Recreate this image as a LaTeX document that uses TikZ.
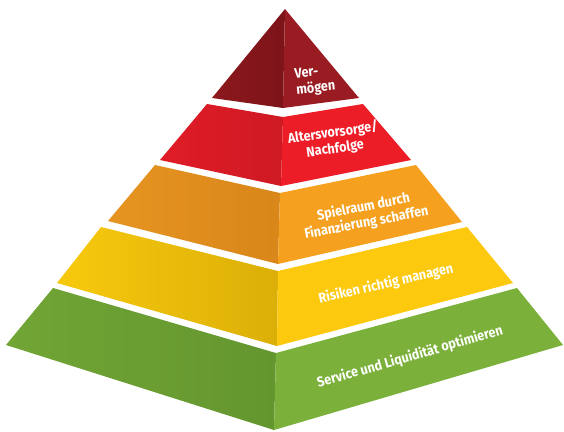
\documentclass[tikz,border=0pt]{standalone}
\usepackage{fontspec}
\newfontfamily\pyrfont{Fira Sans}[FakeStretch=0.9]
\definecolor{vmL}{HTML}{8C181D}\definecolor{vmR}{HTML}{7C1419}\definecolor{vmF}{HTML}{9A1C23}
\definecolor{rdL}{HTML}{DF1C26}\definecolor{rdR}{HTML}{CF1A24}\definecolor{rdF}{HTML}{EC1D26}
\definecolor{orL}{HTML}{E69421}\definecolor{orR}{HTML}{D9861A}\definecolor{orF}{HTML}{F5A11F}
\definecolor{ylL}{HTML}{F7C90D}\definecolor{ylR}{HTML}{DCAF08}\definecolor{ylF}{HTML}{FDC90E}
\definecolor{gnL}{HTML}{71A535}\definecolor{gnR}{HTML}{64962F}\definecolor{gnF}{HTML}{7BB13A}
\tikzset{
  lbl/.style={text=white, font=\pyrfont\bfseries\fontsize{14}{16}\selectfont, align=center, inner sep=0pt}
}
\begin{document}
\begin{tikzpicture}[x=1pt,y=-1pt]
\useasboundingbox (0,0) rectangle (564,431);
% Layer 1: Vermoegen
\shade[left color=vmL, right color=vmR] (285,9) -- (212,98) -- (283,108) -- cycle;
\fill[vmF] (285,9) -- (283,108) -- (359,98) -- cycle;
% Layer 2
\shade[left color=rdL, right color=rdR] (207,104) -- (283,117) -- (281,186) -- (160,160) -- cycle;
\fill[rdF] (283,117) -- (363,104) -- (411,160) -- (281,186) -- cycle;
% Layer 3
\shade[left color=orL, right color=orR] (155,165) -- (280,193) -- (278,264) -- (108,221) -- cycle;
\fill[orF] (280,193) -- (416,165) -- (462,222) -- (278,264) -- cycle;
% Layer 4
\shade[left color=ylL, right color=ylR] (101,227) -- (278,271) -- (277,346) -- (57,283) -- cycle;
\fill[ylF] (278,271) -- (467,227) -- (513,283) -- (277,346) -- cycle;
% Layer 5
\shade[left color=gnL, right color=gnR] (53,288) -- (276,353) -- (274,430) -- (6,345) -- cycle;
\fill[gnF] (276,353) -- (517,288) -- (563,345) -- (274,430) -- cycle;
% Labels
\node[lbl, align=left, rotate=6] (t1) at (315,81) {Ver-\\mögen};
\node[lbl, rotate=8] (t2) at (334,141) {Altersvorsorge/\\Nachfolge};
\node[lbl, rotate=11] (t3) at (365,215) {Spielraum durch\\Finanzierung schaffen};
\node[lbl, rotate=13] (t4) at (386,284) {Risiken richtig managen};
\node[lbl, rotate=16] (t5) at (410,357) {Service und Liquidität optimieren};
\end{tikzpicture}
\end{document}
